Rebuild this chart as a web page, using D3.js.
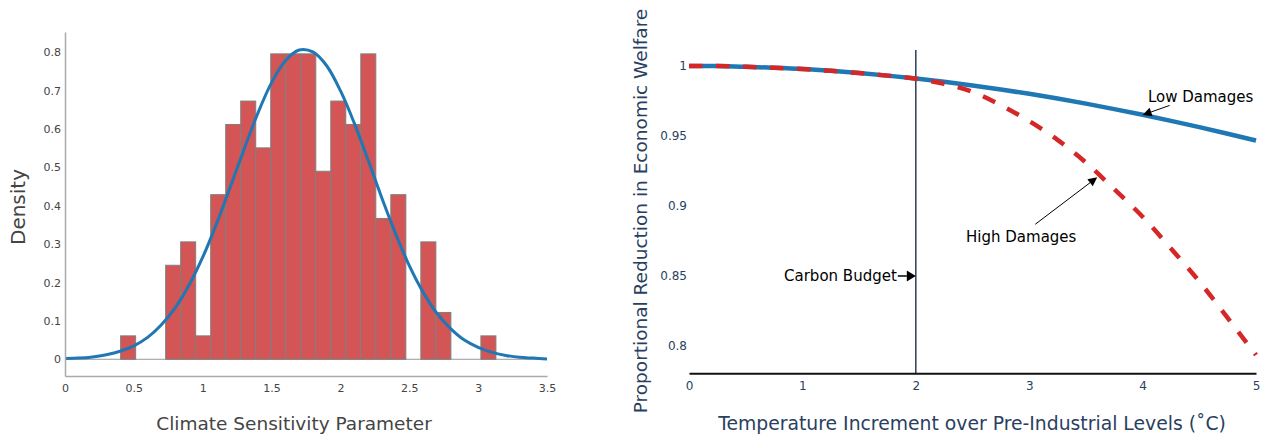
<!DOCTYPE html>
<html>
<head>
<meta charset="utf-8">
<script src="https://cdn.jsdelivr.net/npm/d3@7"></script>
<style>
  body { margin: 0; background: #fff; }
  svg { display: block; font-family: "DejaVu Sans", Verdana, sans-serif; }
</style>
</head>
<body>
<svg id="chart" width="1265" height="436"></svg>
<script>
// ---- Climate sensitivity histogram (bin left edges and density) ----
const binWidth = 0.109;
const binLeft = [0.404, 0.731, 0.840, 0.949, 1.058, 1.167, 1.276, 1.385, 1.494, 1.603,
                 1.712, 1.821, 1.930, 2.039, 2.148, 2.257, 2.366, 2.584, 2.693, 3.020];
const binDensity = [0.061, 0.245, 0.306, 0.061, 0.429, 0.612, 0.673, 0.551, 0.796, 0.796,
                    0.796, 0.490, 0.673, 0.612, 0.796, 0.367, 0.429, 0.306, 0.122, 0.061];

// Fitted density curve
const fitX = [0, 0.1, 0.2, 0.3, 0.4, 0.5, 0.6, 0.7, 0.8, 0.9, 1.0, 1.1, 1.2, 1.3, 1.4, 1.5, 1.6, 1.7,
              1.8, 1.9, 2.0, 2.1, 2.2, 2.3, 2.4, 2.5, 2.6, 2.7, 2.8, 2.9, 3.0, 3.1, 3.2, 3.3, 3.4, 3.5];
const fitDensity = [0.002, 0.003, 0.006, 0.012, 0.021, 0.035, 0.057, 0.090, 0.134, 0.193, 0.266, 0.353,
                    0.449, 0.547, 0.641, 0.721, 0.778, 0.806, 0.801, 0.765, 0.700, 0.616, 0.520, 0.421,
                    0.328, 0.244, 0.175, 0.120, 0.080, 0.050, 0.031, 0.018, 0.010, 0.005, 0.003, 0.001];

const sensTicks = [0, 0.5, 1, 1.5, 2, 2.5, 3, 3.5];
const densityTicks = [0, 0.1, 0.2, 0.3, 0.4, 0.5, 0.6, 0.7, 0.8];

// ---- Welfare vs temperature ----
const temps = [0, 0.25, 0.5, 0.75, 1, 1.25, 1.5, 1.75, 2, 2.25, 2.5, 2.75, 3, 3.25, 3.5, 3.75, 4, 4.25, 4.5, 4.75, 5];
const welfareLow = [1.0000, 0.9999, 0.9994, 0.9987, 0.9978, 0.9965, 0.9949, 0.9931, 0.9910, 0.9887, 0.9861,
                    0.9832, 0.9801, 0.9767, 0.9731, 0.9692, 0.9651, 0.9608, 0.9563, 0.9516, 0.9467];
const welfareHigh = [1.0000, 0.9999, 0.9994, 0.9987, 0.9978, 0.9965, 0.9949, 0.9931, 0.9909, 0.9872, 0.9816,
                     0.9720, 0.9606, 0.9472, 0.9310, 0.9120, 0.8923, 0.8696, 0.8461, 0.8200, 0.7936];
const tempTicks = [0, 1, 2, 3, 4, 5];
const welfareTicks = [0.8, 0.85, 0.9, 0.95, 1];
const carbonBudget = 2;

const svg = d3.select("#chart");

// ================= Left panel: histogram =================
const xL = d3.scaleLinear().domain([0, 3.5]).range([65, 547]);
const yL = d3.scaleLinear().domain([-0.0436, 0.853]).range([376, 32]);

// zero line
svg.append("line")
  .attr("x1", xL(0)).attr("x2", xL(3.5))
  .attr("y1", yL(0)).attr("y2", yL(0))
  .attr("stroke", "#999").attr("stroke-width", 1);

svg.append("g").selectAll("rect")
  .data(binLeft.map((l, i) => ({ l, d: binDensity[i] })))
  .join("rect")
  .attr("x", d => xL(d.l))
  .attr("width", d => xL(d.l + binWidth) - xL(d.l))
  .attr("y", d => yL(d.d))
  .attr("height", d => yL(0) - yL(d.d))
  .attr("fill", "#d35555")
  .attr("stroke", "#7f7f7f")
  .attr("stroke-width", 1);

svg.append("path")
  .datum(fitX.map((x, i) => [x, fitDensity[i]]))
  .attr("d", d3.line().x(d => xL(d[0])).y(d => yL(d[1])).curve(d3.curveCatmullRom))
  .attr("fill", "none")
  .attr("stroke", "#1f77b4")
  .attr("stroke-width", 3);

const gxL = svg.append("g")
  .attr("transform", `translate(0,${yL.range()[0]})`)
  .call(d3.axisBottom(xL).tickValues(sensTicks).tickSize(0).tickSizeOuter(0).tickPadding(8)
        .tickFormat(d => String(d)));
const gyL = svg.append("g")
  .attr("transform", `translate(${xL(0)},0)`)
  .call(d3.axisLeft(yL).tickValues(densityTicks).tickSize(0).tickSizeOuter(0).tickPadding(4)
        .tickFormat(d => String(d)));
[gxL, gyL].forEach(g => {
  g.attr("font-family", null).attr("font-size", null);
  g.select(".domain").attr("stroke", "#aaa").attr("stroke-width", 1.5);
  g.selectAll("text").attr("fill", "#444").attr("font-size", 11);
});

svg.append("text")
  .attr("transform", "translate(18,207) rotate(-90)")
  .attr("text-anchor", "middle").attr("dominant-baseline", "central")
  .attr("font-size", 20).attr("fill", "#444")
  .text("Density");
svg.append("text")
  .attr("x", 294).attr("y", 423)
  .attr("text-anchor", "middle").attr("dominant-baseline", "central")
  .attr("font-size", 18.5).attr("fill", "#444")
  .text("Climate Sensitivity Parameter");

// ================= Right panel: welfare curves =================
const xR = d3.scaleLinear().domain([0, 5]).range([689, 1256]);
const yR = d3.scaleLinear().domain([0.7805, 1.0114]).range([373.3, 50]);

svg.append("line")
  .attr("x1", xR(carbonBudget)).attr("x2", xR(carbonBudget))
  .attr("y1", yR.range()[1]).attr("y2", yR.range()[0])
  .attr("stroke", "#2a3f5f").attr("stroke-width", 1.5);

const welfareLine = d3.line().x(d => xR(d[0])).y(d => yR(d[1])).curve(d3.curveMonotoneX);

svg.append("path")
  .datum(temps.map((t, i) => [t, welfareLow[i]]))
  .attr("d", welfareLine)
  .attr("fill", "none").attr("stroke", "#1f77b4").attr("stroke-width", 4.5);

svg.append("path")
  .datum(temps.map((t, i) => [t, welfareHigh[i]]))
  .attr("d", welfareLine)
  .attr("fill", "none").attr("stroke", "#d62728").attr("stroke-width", 4.5)
  .attr("stroke-dasharray", "13.5,13.5");

const gxR = svg.append("g")
  .attr("transform", `translate(0,${yR.range()[0]})`)
  .call(d3.axisBottom(xR).tickValues(tempTicks).tickSize(0).tickSizeOuter(0).tickPadding(8)
        .tickFormat(d => String(d)));
gxR.select(".domain").attr("stroke", "#111").attr("stroke-width", 2);

const gyR = svg.append("g")
  .attr("transform", `translate(${xR(0)},0)`)
  .call(d3.axisLeft(yR).tickValues(welfareTicks).tickSize(0).tickSizeOuter(0).tickPadding(2)
        .tickFormat(d => String(d)));
gyR.select(".domain").remove();
[gxR, gyR].forEach(g => {
  g.attr("font-family", null).attr("font-size", null);
  g.selectAll("text").attr("fill", "#2a3f5f").attr("font-size", 12);
});

svg.append("text")
  .attr("transform", "translate(640,211) rotate(-90)")
  .attr("text-anchor", "middle").attr("dominant-baseline", "central")
  .attr("font-size", 18.5).attr("fill", "#2a3f5f")
  .text("Proportional Reduction in Economic Welfare");
svg.append("text")
  .attr("x", 972).attr("y", 423)
  .attr("text-anchor", "middle").attr("dominant-baseline", "central")
  .attr("font-size", 18.8).attr("fill", "#2a3f5f")
  .text("Temperature Increment over Pre-Industrial Levels (˚C)");

// Annotations with arrows pointing at data coordinates
const notes = [
  { text: "Carbon Budget", t: carbonBudget, w: 0.85, tail: [-18, 0], label: [-19, 0], anchor: "end", lw: 1.5, head: [9, 5.5] },
  { text: "Low Damages", t: 4, w: 0.965, tail: [27, -9.5], label: [58, -18], anchor: "middle", lw: 1, head: [9, 4.5] },
  { text: "High Damages", t: 3.6, w: 0.9205, tail: [-62, 47], label: [-76, 60], anchor: "middle", lw: 1, head: [9, 4.5] }
];

notes.forEach(n => {
  const hx = xR(n.t), hy = yR(n.w);
  const tx = hx + n.tail[0], ty = hy + n.tail[1];
  const dx = hx - tx, dy = hy - ty, len = Math.hypot(dx, dy);
  const ux = dx / len, uy = dy / len;
  const [hl, hw] = n.head;
  const bx = hx - ux * hl, by = hy - uy * hl;
  svg.append("line")
    .attr("x1", tx).attr("y1", ty).attr("x2", bx).attr("y2", by)
    .attr("stroke", "#000").attr("stroke-width", n.lw);
  svg.append("path")
    .attr("d", `M${hx},${hy}L${bx - uy * hw},${by + ux * hw}L${bx + uy * hw},${by - ux * hw}Z`)
    .attr("fill", "#000");
  svg.append("text")
    .attr("x", hx + n.label[0]).attr("y", hy + n.label[1])
    .attr("text-anchor", n.anchor).attr("dominant-baseline", "central")
    .attr("font-size", 15).attr("fill", "#000")
    .text(n.text);
});
</script>
</body>
</html>
